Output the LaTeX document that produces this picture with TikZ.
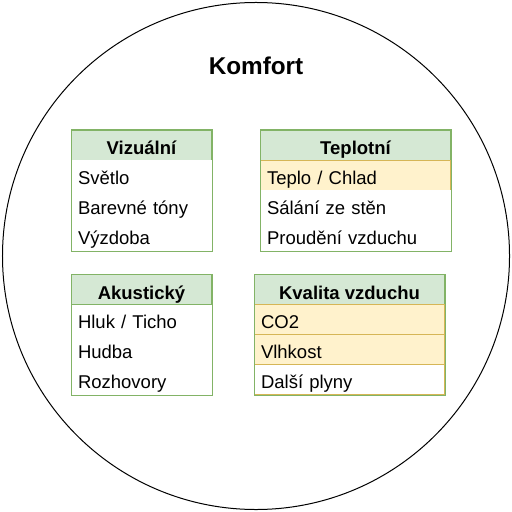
\documentclass[tikz,border=0pt]{standalone}
\usepackage{fontspec}
\setmainfont{Liberation Sans}
\definecolor{hdrfill}{HTML}{D5E8D4}
\definecolor{hdrline}{HTML}{82B366}
\definecolor{hlfill}{HTML}{FFF2CC}
\definecolor{hlline}{HTML}{D6B656}
\begin{document}
\begin{tikzpicture}[x=1bp,y=-1bp,line width=1bp,
  hdr/.style={draw=hdrline, fill=hdrfill, anchor=north west, minimum width=#1,
    minimum height=30bp, inner sep=0pt, text height=19bp, text depth=0bp,
    font=\bfseries\fontsize{18.5bp}{22bp}\selectfont},
  row/.style={anchor=north west, fill=white, text width=#1, inner xsep=6.5bp, inner ysep=0pt,
    minimum height=30bp, align=left, text height=18.5bp, text depth=0bp,
    font=\fontsize{18.5bp}{22bp}\selectfont},
  hl/.style={fill=hlfill, draw=hlline},
  frame/.style={draw=hdrline}]
\useasboundingbox (0,0) rectangle (512,512);
\node[circle, draw=black, minimum size=507bp, inner sep=0pt] (komfort) at (256,256) {};
\node[font=\bfseries\fontsize{24.3bp}{28bp}\selectfont] (title) at (256,66) {Komfort};

% Vizualni
\node[hdr=140bp] (vh) at (71,130) {Vizuální};
\node[row=127bp] (v1) at (71,160) {Světlo};
\node[row=127bp] (v2) at (71,190) {Barevné tóny};
\node[row=127bp] (v3) at (71,220) {Výzdoba};
\draw[frame] (vh.north west) rectangle (v3.south east);

% Teplotni
\node[hdr=190bp] (th) at (260,130) {Teplotní};
\node[row=177bp, hl] (t1) at (260,160) {Teplo / Chlad};
\node[row=177bp] (t2) at (260,190) {Sálání ze stěn};
\node[row=177bp] (t3) at (260,220) {Proudění vzduchu};
\draw[frame] (th.north west) rectangle (t3.south east);

% Akusticky
\node[hdr=140bp] (ah) at (71,274) {Akustický};
\node[row=127bp] (a1) at (71,304) {Hluk / Ticho};
\node[row=127bp] (a2) at (71,334) {Hudba};
\node[row=127bp] (a3) at (71,364) {Rozhovory};
\draw[frame] (ah.north west) rectangle (a3.south east);

% Kvalita vzduchu
\node[hdr=190bp] (kh) at (254,274) {Kvalita vzduchu};
\node[row=177bp, hl] (k1) at (254,304) {CO2};
\node[row=177bp, hl] (k2) at (254,334) {Vlhkost};
\node[row=177bp, draw=hlline] (k3) at (254,364) {Další plyny};
\draw[frame] (kh.north west) rectangle (k3.south east);
\end{tikzpicture}
\end{document}
